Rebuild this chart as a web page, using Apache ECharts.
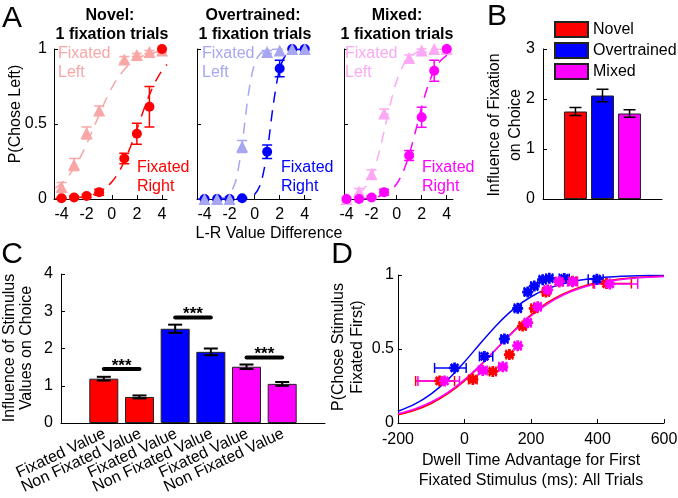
<!DOCTYPE html>
<html><head><meta charset="utf-8">
<script src="https://cdn.jsdelivr.net/npm/echarts@6/dist/echarts.min.js"></script>
<style>html,body{margin:0;padding:0;background:#fff}#c{width:678px;height:498px}</style>
</head><body><div id="c"></div>
<script>
// ---------------- DATA ----------------
// Panel A: choice curves, 1 fixation trials
const aX = [-4, -3, -2, -1, 1, 2, 3, 4];
const novelLeftY = [0.08, 0.23, 0.44, 0.59, 0.93, 0.96, 0.98, 0.99];
const novelLeftErr = [0.03, 0.04, 0.04, 0.03, 0.02, 0.01, 0.01, 0.01];
const novelRightY = [0.005, 0.01, 0.02, 0.045, 0.27, 0.435, 0.615, 1.0];
const novelRightErr = [0.005, 0.01, 0.01, 0.02, 0.035, 0.07, 0.135, 0];
const overLeftY = [0.0, 0.0, 0.0, 0.35, 0.98, 0.99, 1.0, 1.0];
const overLeftErr = [0, 0, 0, 0.04, 0.01, 0, 0, 0];
const overRightY = [0.0, 0.0, 0.0, 0.005, 0.315, 0.87, 1.0, 1.0];
const overRightErr = [0, 0, 0, 0.005, 0.045, 0.055, 0, 0];
const mixedLeftY = [0.0, 0.05, 0.165, 0.57, 0.94, 0.99, 1.0, 1.0];
const mixedLeftErr = [0.01, 0.02, 0.03, 0.03, 0.02, 0.01, 0, 0];
const mixedRightY = [0.0, 0.0, 0.01, 0.045, 0.29, 0.545, 0.855, 1.0];
const mixedRightErr = [0, 0, 0.01, 0.02, 0.033, 0.067, 0.07, 0];
// fitted (dashed) curves
const fitX = [-4.5, -4, -3.5, -3, -2.5, -2, -1.5, -1, -0.5, 0, 0.5, 1, 1.5, 2, 2.5, 3, 3.5, 4, 4.4];
const novelLeftFit = [0.072, 0.104, 0.148, 0.206, 0.279, 0.366, 0.463, 0.562, 0.657, 0.741, 0.810, 0.864, 0.905, 0.934, 0.955, 0.969, 0.979, 0.986, 0.990];
const novelRightFit = [0.002, 0.003, 0.004, 0.007, 0.011, 0.018, 0.029, 0.047, 0.073, 0.113, 0.171, 0.250, 0.350, 0.465, 0.584, 0.694, 0.786, 0.856, 0.897];
const overLeftFit = [0, 0, 0.001, 0.002, 0.009, 0.034, 0.123, 0.364, 0.698, 0.904, 0.974, 0.994, 0.998, 1, 1, 1, 1, 1, 1];
const overRightFit = [0, 0, 0, 0, 0, 0, 0.001, 0.002, 0.008, 0.030, 0.107, 0.314, 0.636, 0.870, 0.962, 0.990, 0.997, 0.999, 1];
const mixedLeftFit = [0.004, 0.009, 0.019, 0.039, 0.079, 0.154, 0.279, 0.450, 0.634, 0.786, 0.886, 0.943, 0.972, 0.987, 0.994, 0.997, 0.999, 0.999, 1];
const mixedRightFit = [0, 0.001, 0.001, 0.002, 0.004, 0.008, 0.015, 0.029, 0.054, 0.100, 0.177, 0.295, 0.449, 0.613, 0.755, 0.857, 0.921, 0.958, 0.975];
const aTicks = [-4, -2, 0, 2, 4];

// Panel B
const bNames = ['Novel', 'Overtrained', 'Mixed'];
const bX = [1, 2, 3];
const bVals = [1.75, 2.07, 1.71];
const bErr = [0.08, 0.125, 0.075];

// Panel C
const cLabels = ['Fixated Value', 'Non Fixated Value', 'Fixated Value', 'Non Fixated Value', 'Fixated Value', 'Non Fixated Value'];
const cX = [1, 2, 3, 4, 5, 6];
const cVals = [1.19, 0.70, 2.53, 1.91, 1.51, 1.05];
const cErr = [0.05, 0.04, 0.11, 0.09, 0.06, 0.05];
const sigFrom = [1, 3, 5];
const sigTo = [2, 4, 6];
const sigY = [1.45, 2.83, 1.76];
const sigText = ['***', '***', '***'];

// Panel D
const dBlueX = [-30, 60, 120, 160, 190, 210, 235, 255, 300, 398];
const dBlueY = [0.372, 0.45, 0.568, 0.775, 0.885, 0.925, 0.968, 0.978, 0.977, 0.972];
const dBlueLo = [-90, 45, 110, 150, 180, 200, 225, 245, 285, 372];
const dBlueHi = [5, 85, 130, 170, 200, 220, 245, 265, 315, 417];
const dRedX = [-75, 25, 85, 135, 175, 210, 245, 285, 325, 427];
const dRedY = [0.284, 0.294, 0.348, 0.462, 0.655, 0.775, 0.885, 0.955, 0.958, 0.942];
const dRedLo = [-147, 12, 75, 125, 165, 200, 235, 275, 312, 387];
const dRedHi = [-30, 38, 95, 145, 185, 220, 255, 295, 338, 502];
const dMagX = [-60, 55, 115, 160, 190, 220, 250, 285, 325, 437];
const dMagY = [0.284, 0.355, 0.38, 0.522, 0.678, 0.785, 0.9, 0.955, 0.955, 0.94];
const dMagLo = [-140, 42, 103, 150, 180, 210, 240, 273, 310, 391];
const dMagHi = [-15, 68, 127, 170, 200, 230, 260, 297, 340, 521];
const dCurveX = [-200, -150, -100, -50, 0, 50, 100, 150, 200, 250, 300, 350, 400, 450, 500, 550, 600];
const dBlueFit = [0.079, 0.127, 0.197, 0.293, 0.413, 0.544, 0.669, 0.774, 0.853, 0.908, 0.943, 0.966, 0.980, 0.988, 0.993, 0.996, 0.997];
const dRedFit = [0.055, 0.086, 0.132, 0.198, 0.285, 0.392, 0.510, 0.627, 0.731, 0.815, 0.876, 0.920, 0.949, 0.968, 0.980, 0.987, 0.992];
const dMagFit = [0.062, 0.095, 0.142, 0.207, 0.293, 0.397, 0.510, 0.622, 0.723, 0.805, 0.868, 0.912, 0.943, 0.963, 0.976, 0.985, 0.990];

// ---------------- STYLE ----------------
const FONT = '"Liberation Sans", Arial, Helvetica, sans-serif';
const RED = '#ff0000', LRED = '#f8a6a6';
const BLUE = '#0000ff', LBLUE = '#a6a6f2';
const MAG = '#ff00ff', LMAG = '#fca8f4';
const cColors = [RED, RED, BLUE, BLUE, MAG, MAG];
const bColors = [RED, BLUE, MAG];
const starPath = 'path://M-1,-4L1,-4L1,-1L4,-1L4,1L1,1L1,4L-1,4L-1,1L-4,1L-4,-1L-1,-1Z' +
  'M-2.12,-3.54L3.54,2.12L2.12,3.54L-3.54,-2.12Z' +
  'M2.12,-3.54L3.54,-2.12L-2.12,3.54L-3.54,2.12Z';

const zip = (xs, ys) => xs.map((x, i) => [x, ys[i]]);
const zip3 = (xs, ys, es) => xs.map((x, i) => [x, ys[i], es[i]]);

function vErr(cap, lw) {
  return function (params, api) {
    const x = api.value(0), y = api.value(1), e = api.value(2);
    if (!e) return null;
    const lo = api.coord([x, y - e]), hi = api.coord([x, y + e]);
    const st = { stroke: api.visual('color'), lineWidth: lw };
    return { type: 'group', children: [
      { type: 'line', shape: { x1: lo[0], y1: lo[1], x2: hi[0], y2: hi[1] }, style: st },
      { type: 'line', shape: { x1: lo[0] - cap, y1: lo[1], x2: lo[0] + cap, y2: lo[1] }, style: st },
      { type: 'line', shape: { x1: hi[0] - cap, y1: hi[1], x2: hi[0] + cap, y2: hi[1] }, style: st }
    ] };
  };
}
function hErr(cap, lw) {
  return function (params, api) {
    const y = api.value(1), lo = api.value(2), hi = api.value(3);
    const a = api.coord([lo, y]), b = api.coord([hi, y]);
    const st = { stroke: api.visual('color'), lineWidth: lw };
    return { type: 'group', children: [
      { type: 'line', shape: { x1: a[0], y1: a[1], x2: b[0], y2: b[1] }, style: st },
      { type: 'line', shape: { x1: a[0], y1: a[1] - cap, x2: a[0], y2: a[1] + cap }, style: st },
      { type: 'line', shape: { x1: b[0], y1: b[1] - cap, x2: b[0], y2: b[1] + cap }, style: st }
    ] };
  };
}
function sigRender(params, api) {
  const x1 = api.value(0), x2 = api.value(1), y = api.value(2);
  const p1 = api.coord([x1, y]), p2 = api.coord([x2, y]);
  return { type: 'group', children: [
    { type: 'line', shape: { x1: p1[0], y1: p1[1], x2: p2[0], y2: p2[1] }, style: { stroke: '#000', lineWidth: 4, lineCap: 'round' } },
    { type: 'text', x: (p1[0] + p2[0]) / 2, y: p1[1] - 3, style: { text: sigText[params.dataIndex], fill: '#000', font: 'bold 17px ' + FONT, textAlign: 'center', textVerticalAlign: 'middle' } }
  ] };
}
// rotated category labels under panel C bars
function cLabelRender(params, api) {
  const p = api.coord([api.value(0), 0]);
  return { type: 'text', x: p[0] + 1, y: p[1] + 10, rotation: 25 * Math.PI / 180,
    style: { text: cLabels[params.dataIndex], fill: '#000', font: '16px ' + FONT, textAlign: 'right', textVerticalAlign: 'middle' } };
}

const axLine = { show: true, onZero: false, lineStyle: { color: '#000', width: 1 } };
const tickIn = { show: true, inside: true, length: 4, lineStyle: { color: '#000' } };
const lab = { color: '#000', fontSize: 16, fontFamily: FONT };

function grid(l, t, w, h) { return { left: l, top: t, width: w, height: h, containLabel: false, outerBoundsMode: 'none' }; }

const grids = [grid(54, 49, 113, 150), grid(197, 49, 114, 150), grid(344, 49, 109, 150),
  grid(543, 49, 119, 150), grid(61, 274, 264, 149), grid(398, 275, 266, 148)];

function aXAxis(gi, min, max) {
  return { type: 'value', gridIndex: gi, min: min, max: max, axisLine: axLine, splitLine: { show: false },
    axisTick: Object.assign({}, tickIn, { customValues: aTicks }),
    axisLabel: Object.assign({}, lab, { customValues: aTicks, margin: 8 }) };
}
const xAxes = [
  aXAxis(0, -4.6, 4.4), aXAxis(1, -4.6, 4.5), aXAxis(2, -4.2, 4.5),
  { type: 'value', gridIndex: 3, min: -0.2, max: 4.2, axisLine: axLine, splitLine: { show: false }, axisTick: { show: false }, axisLabel: { show: false } },
  { type: 'value', gridIndex: 4, min: -0.2, max: 7.2, axisLine: axLine, splitLine: { show: false }, axisTick: { show: false }, axisLabel: { show: false } },
  { type: 'value', gridIndex: 5, min: -200, max: 600, interval: 200, axisLine: axLine, splitLine: { show: false }, axisTick: tickIn,
    axisLabel: Object.assign({}, lab, { margin: 9 }) }
];
function yAx(gi, min, max, iv, showLab, margin) {
  return { type: 'value', gridIndex: gi, min: min, max: max, interval: iv, axisLine: axLine, splitLine: { show: false },
    axisTick: tickIn, axisLabel: Object.assign({}, lab, { show: showLab, margin: margin }) };
}
const yAxes = [yAx(0, 0, 1, 0.5, true, 7), yAx(1, 0, 1, 0.5, false, 7), yAx(2, 0, 1, 0.5, false, 7),
  yAx(3, 0, 3, 1, true, 8), yAx(4, 0, 4, 1, true, 8), yAx(5, 0, 1, 0.5, true, 4)];

const series = [];
function aPanel(gi, leftY, leftErr, rightY, rightErr, leftFit, rightFit, dark, light, rightFirst) {
  const fit = (c, f) => ({ type: 'line', xAxisIndex: gi, yAxisIndex: gi, data: zip(fitX, f), symbol: 'none', smooth: 0.3, z: 2,
    lineStyle: { color: c, width: 1.5, type: [11, 8] }, silent: true });
  series.push(fit(light, leftFit), fit(dark, rightFit));
  const leftS = [
    { type: 'custom', xAxisIndex: gi, yAxisIndex: gi, renderItem: vErr(5, 1.5), data: zip3(aX, leftY, leftErr), itemStyle: { color: light }, encode: { x: 0, y: 1 }, clip: false, z: 3 },
    { type: 'scatter', xAxisIndex: gi, yAxisIndex: gi, data: zip(aX, leftY), symbol: 'triangle', symbolSize: 12, itemStyle: { color: light, opacity: 1 }, clip: false, z: 4 }
  ];
  const rightS = [
    { type: 'custom', xAxisIndex: gi, yAxisIndex: gi, renderItem: vErr(5, 1.5), data: zip3(aX, rightY, rightErr), itemStyle: { color: dark }, encode: { x: 0, y: 1 }, clip: false, z: 3 },
    { type: 'scatter', xAxisIndex: gi, yAxisIndex: gi, data: zip(aX, rightY), symbol: 'circle', symbolSize: 10, itemStyle: { color: dark, opacity: 1 }, clip: false, z: 4 }
  ];
  if (rightFirst) series.push(...rightS, ...leftS); else series.push(...leftS, ...rightS);
}
aPanel(0, novelLeftY, novelLeftErr, novelRightY, novelRightErr, novelLeftFit, novelRightFit, RED, LRED, false);
aPanel(1, overLeftY, overLeftErr, overRightY, overRightErr, overLeftFit, overRightFit, BLUE, LBLUE, true);
aPanel(2, mixedLeftY, mixedLeftErr, mixedRightY, mixedRightErr, mixedLeftFit, mixedRightFit, MAG, LMAG, false);

// Panel B bars
bNames.forEach((n, i) => {
  series.push({ name: n, type: 'bar', xAxisIndex: 3, yAxisIndex: 3, data: [[bX[i], bVals[i]]], barWidth: 23, barGap: '-100%',
    itemStyle: { color: bColors[i], borderColor: '#222', borderWidth: 1 }, z: 2 });
});
series.push({ type: 'custom', xAxisIndex: 3, yAxisIndex: 3, renderItem: vErr(6, 1.5), data: zip3(bX, bVals, bErr), itemStyle: { color: '#000' }, encode: { x: 0, y: 1 }, clip: false, z: 3 });

// Panel C bars
series.push({ type: 'bar', xAxisIndex: 4, yAxisIndex: 4, barWidth: 29, z: 2,
  data: cX.map((x, i) => ({ value: [x, cVals[i]], itemStyle: { color: cColors[i], borderColor: '#222', borderWidth: 1 } })) });
series.push({ type: 'custom', xAxisIndex: 4, yAxisIndex: 4, renderItem: vErr(7, 2), data: zip3(cX, cVals, cErr), itemStyle: { color: '#000' }, encode: { x: 0, y: 1 }, clip: false, z: 3 });
series.push({ type: 'custom', xAxisIndex: 4, yAxisIndex: 4, renderItem: sigRender, data: sigFrom.map((a, i) => [a, sigTo[i], sigY[i]]), encode: { x: [0, 1], y: 2 }, clip: false, z: 4 });
series.push({ type: 'custom', xAxisIndex: 4, yAxisIndex: 4, renderItem: cLabelRender, data: cX.map(x => [x, 0]), encode: { x: 0, y: 1 }, clip: false, silent: true, z: 5 });

// Panel D
[[dBlueFit, BLUE], [dRedFit, RED], [dMagFit, MAG]].forEach(([f, c]) => {
  series.push({ type: 'line', xAxisIndex: 5, yAxisIndex: 5, data: zip(dCurveX, f), symbol: 'none', smooth: 0.3, lineStyle: { color: c, width: 1.5 }, z: 2 });
});
[[dBlueX, dBlueY, dBlueLo, dBlueHi, BLUE], [dRedX, dRedY, dRedLo, dRedHi, RED], [dMagX, dMagY, dMagLo, dMagHi, MAG]].forEach(([xs, ys, lo, hi, c]) => {
  series.push({ type: 'custom', xAxisIndex: 5, yAxisIndex: 5, renderItem: hErr(5, 1.5), data: xs.map((x, i) => [x, ys[i], lo[i], hi[i]]),
    itemStyle: { color: c }, encode: { x: [0, 2, 3], y: 1 }, clip: false, z: 3 });
  series.push({ type: 'scatter', xAxisIndex: 5, yAxisIndex: 5, data: zip(xs, ys), symbol: starPath, symbolSize: 11, itemStyle: { color: c, opacity: 1 }, clip: false, z: 4 });
});

// ---------------- TEXT ----------------
function txt(x, y, text, opts) {
  opts = opts || {};
  return { type: 'text', x: x, y: y, rotation: opts.rot || 0, silent: true, z: 10,
    style: { text: text, fill: opts.color || '#000', font: (opts.weight || 'normal') + ' ' + (opts.size || 16) + 'px ' + FONT,
      textAlign: opts.align || 'center', textVerticalAlign: opts.valign || 'middle', lineHeight: opts.lh || 19.5 } };
}
const graphics = [
  txt(12, 19, 'A', { size: 30 }), txt(497, 17, 'B', { size: 30 }), txt(12, 255, 'C', { size: 30 }), txt(342, 255, 'D', { size: 30 }),
  txt(110, 16, 'Novel:', { weight: 'bold' }), txt(112, 35, '1 fixation trials', { weight: 'bold' }),
  txt(253, 16, 'Overtrained:', { weight: 'bold' }), txt(255, 35, '1 fixation trials', { weight: 'bold' }),
  txt(397, 16, 'Mixed:', { weight: 'bold' }), txt(397, 35, '1 fixation trials', { weight: 'bold' }),
  txt(16, 114, 'P(Chose Left)', { rot: Math.PI / 2 }),
  txt(269, 234, 'L-R Value Difference'),
  txt(58, 63, 'Fixated\nLeft', { align: 'left', color: LRED }),
  txt(137, 177, 'Fixated\nRight', { align: 'left', color: RED }),
  txt(202, 63, 'Fixated\nLeft', { align: 'left', color: LBLUE }),
  txt(281, 177, 'Fixated\nRight', { align: 'left', color: BLUE }),
  txt(345, 63, 'Fixated\nLeft', { align: 'left', color: LMAG }),
  txt(422, 177, 'Fixated\nRight', { align: 'left', color: MAG }),
  txt(505, 125, 'Influence of Fixation\non Choice', { rot: Math.PI / 2, lh: 21 }),
  txt(18, 348, 'Influence of Stimulus\nValues on Choice', { rot: Math.PI / 2, lh: 17.5 }),
  txt(348, 347, 'P(Chose Stimulus\nFixated First)', { rot: Math.PI / 2, lh: 19.5 }),
  txt(531, 471, 'Dwell Time Advantage for First\nFixated Stimulus (ms): All Trials', { lh: 20 })
];

const chart = echarts.init(document.getElementById('c'), null, { renderer: 'canvas' });
chart.setOption({
  animation: false,
  backgroundColor: '#fff',
  textStyle: { fontFamily: FONT },
  grid: grids, xAxis: xAxes, yAxis: yAxes, series: series, graphic: graphics,
  legend: { data: bNames, orient: 'vertical', left: 554, top: 21, padding: 0, itemWidth: 33, itemHeight: 15, itemGap: 4,
    selectedMode: false, icon: 'rect', textStyle: { fontSize: 16, color: '#000', fontFamily: FONT } }
});
</script></body></html>
